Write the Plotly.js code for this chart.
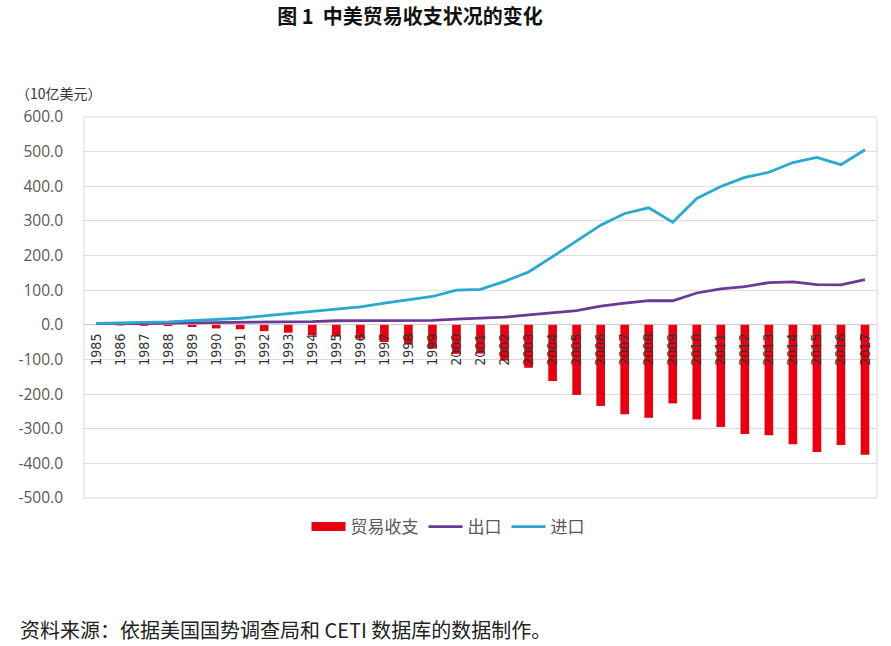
<!DOCTYPE html>
<html>
<head>
<meta charset="utf-8">
<script src="https://cdn.plot.ly/plotly-3.0.1.min.js"></script>
<style>
html,body{margin:0;padding:0;background:#fff;}
#chart{width:891px;height:646px;}
</style>
</head>
<body>
<div id="chart"></div>
<script>
var years = ["1985","1986","1987","1988","1989","1990","1991","1992","1993","1994","1995","1996","1997","1998","1999","2000","2001","2002","2003","2004","2005","2006","2007","2008","2009","2010","2011","2012","2013","2014","2015","2016","2017"];
var balance = [-0.4,-1.7,-2.8,-3.5,-6.2,-10.4,-12.7,-18.3,-22.8,-29.5,-33.8,-39.5,-49.7,-56.9,-68.7,-83.8,-83.1,-103.1,-124.1,-162.3,-202.3,-234.1,-258.5,-268.0,-226.9,-273.0,-295.3,-315.1,-318.7,-344.8,-367.3,-346.8,-375.2];
var exportsUS = [3.9,3.1,3.5,5.0,5.8,4.8,6.3,7.4,8.8,9.3,11.7,12.0,12.9,14.2,13.1,16.2,19.2,22.1,28.4,34.4,41.2,53.7,62.9,69.7,69.5,91.9,103.9,110.5,121.7,123.7,115.9,115.6,130.4];
var importsUS = [3.9,4.8,6.3,8.5,12.0,15.2,19.0,25.7,31.5,38.8,45.6,51.5,62.6,71.2,81.8,100.0,102.3,125.2,152.4,196.7,243.5,287.8,321.4,337.8,296.4,364.9,399.4,425.6,440.4,468.5,483.2,462.4,505.5];
var yTickVals = [600,500,400,300,200,100,0,-100,-200,-300,-400,-500];
var yTickText = ["600.0","500.0","400.0","300.0","200.0","100.0","0.0","-100.0","-200.0","-300.0","-400.0","-500.0"];
var seriesNames = ["贸易收支","出口","进口"];

var RED = '#e60012';
var traces = [
  {type:'bar', x:years, y:balance, name:seriesNames[0], marker:{color:RED}, showlegend:false, legendgroup:'bal'},
  {type:'scatter', mode:'lines', x:[null], y:[null], name:seriesNames[0], line:{color:RED, width:9}, legendgroup:'bal', showlegend:true},
  {type:'scatter', mode:'lines', x:years, y:exportsUS, name:seriesNames[1], line:{color:'#6b3a96', width:2.8}},
  {type:'scatter', mode:'lines', x:years, y:importsUS, name:seriesNames[2], line:{color:'#29a8d0', width:2.8}}
];

var layout = {
  width:891, height:646,
  paper_bgcolor:'#ffffff', plot_bgcolor:'#ffffff',
  margin:{l:84, r:14, t:117, b:148},
  showlegend:true,
  bargap:0.64,
  font:{family:'"Noto Sans CJK SC", sans-serif', color:'#595959'},
  title:{text:'<b>图 1  中美贸易收支状况的变化</b>', x:410/891, xanchor:'center', xref:'container',
         y:1-17/646, yanchor:'middle', yref:'container',
         font:{family:'"Noto Sans CJK SC", sans-serif', size:20, color:'#111111'}},
  xaxis:{type:'category', anchor:'free', position:500/1100, side:'bottom',
         showline:false, showgrid:false, zeroline:false, ticks:'',
         tickangle:-90, ticklabelstandoff:5,
         tickfont:{family:'"Liberation Sans Narrow", "DejaVu Sans Condensed", sans-serif', size:14, color:'#333333'}},
  yaxis:{range:[-500,600], tickvals:yTickVals, ticktext:yTickText,
         showgrid:true, gridcolor:'#dcdcdc', gridwidth:1,
         zeroline:true, zerolinecolor:'#cfcfcf', zerolinewidth:1,
         showline:false,
         ticks:'', ticklabelstandoff:20,
         tickfont:{family:'"Open Sans", "DejaVu Sans", sans-serif', size:15.5, color:'#595959'}},
  legend:{orientation:'h', x:(448-84)/793, xanchor:'center', y:(498-527)/381, yanchor:'middle',
          font:{family:'"Noto Sans CJK SC", sans-serif', size:17, color:'#595959'},
          itemwidth:34, traceorder:'normal'},
  shapes:[
    {type:'rect', xref:'paper', yref:'paper', x0:0, x1:1, y0:0, y1:1, line:{color:'#d9d9d9', width:1}, fillcolor:'rgba(0,0,0,0)', layer:'below'}
  ],
  annotations:[
    {text:'（10亿美元）', xref:'paper', yref:'paper', x:(14-84)/793, xanchor:'left', y:(498-93)/381, yanchor:'middle',
     showarrow:false, font:{family:'"Noto Sans CJK SC", sans-serif', size:14, color:'#333333'}},
    {text:'资料来源：依据美国国势调查局和 CETI 数据库的数据制作。', xref:'paper', yref:'paper', x:(18-84)/793, xanchor:'left', y:(498-629)/381, yanchor:'middle',
     showarrow:false, font:{family:'"Noto Sans CJK SC", sans-serif', size:20, color:'#222222'}}
  ]
};

Plotly.newPlot('chart', traces, layout, {displayModeBar:false, staticPlot:true});
</script>
</body>
</html>
